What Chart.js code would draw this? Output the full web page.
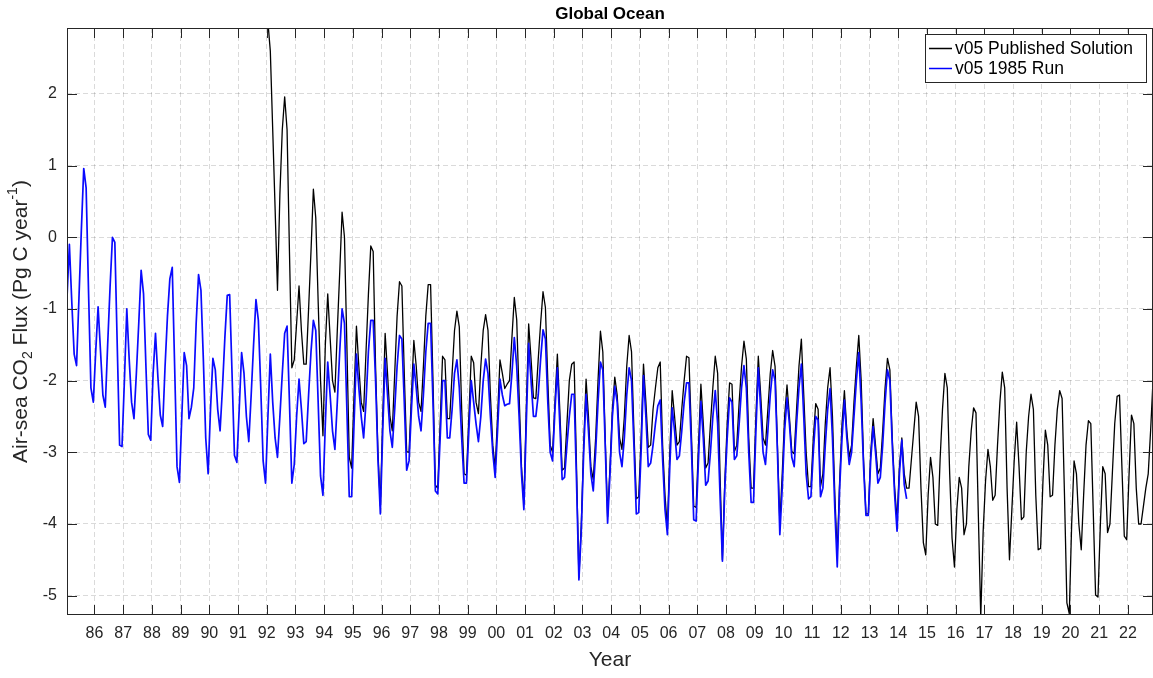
<!DOCTYPE html>
<html>
<head>
<meta charset="utf-8">
<script src="https://cdn.jsdelivr.net/npm/chart.js@4.4.1/dist/chart.umd.min.js"></script>
<style>
  html, body { margin: 0; padding: 0; background: #fff; }
</style>
</head>
<body>
<canvas id="fluxChart" width="1153" height="678"></canvas>
<script>
// Monthly air-sea CO2 flux, Pg C / year
// v05 1985 Run: Jan 1985 - Apr 2014
const runStartYear = 1985;
const runFlux = [
  -0.85, -0.10, -0.90, -1.63, -1.79, -0.85, 0.10, 0.96, 0.69, -0.75, -2.10, -2.30,
  -1.60, -0.97, -1.58, -2.20, -2.37, -1.50, -0.70, 0.00, -0.07, -1.50, -2.90, -2.92,
  -2.00, -1.00, -1.70, -2.30, -2.53, -1.90, -1.20, -0.46, -0.79, -1.80, -2.75, -2.83,
  -1.90, -1.34, -1.95, -2.48, -2.64, -1.80, -1.10, -0.58, -0.42, -1.80, -3.20, -3.42,
  -2.50, -1.61, -1.79, -2.53, -2.37, -2.10, -1.20, -0.52, -0.74, -1.70, -2.80, -3.30,
  -2.40, -1.69, -1.85, -2.40, -2.70, -2.10, -1.40, -0.81, -0.80, -1.90, -3.04, -3.14,
  -2.40, -1.61, -1.90, -2.50, -2.85, -2.20, -1.50, -0.87, -1.16, -2.10, -3.12, -3.43,
  -2.50, -1.63, -2.30, -2.80, -3.07, -2.50, -1.90, -1.34, -1.24, -2.30, -3.43, -3.17,
  -2.50, -1.98, -2.40, -2.88, -2.85, -2.20, -1.60, -1.16, -1.30, -2.30, -3.33, -3.60,
  -2.60, -1.74, -2.20, -2.70, -2.96, -2.30, -1.60, -1.00, -1.20, -2.40, -3.62, -3.62,
  -2.60, -1.63, -2.10, -2.50, -2.80, -2.30, -1.60, -1.16, -1.16, -2.00, -3.10, -3.86,
  -2.70, -1.69, -2.20, -2.70, -2.93, -2.40, -1.80, -1.37, -1.42, -2.30, -3.25, -3.12,
  -2.40, -1.77, -2.10, -2.50, -2.70, -2.20, -1.60, -1.20, -1.20, -2.30, -3.54, -3.58,
  -2.80, -2.00, -2.00, -2.80, -2.80, -2.40, -1.90, -1.71, -2.10, -2.80, -3.43, -3.43,
  -2.70, -2.00, -2.30, -2.60, -2.85, -2.50, -2.00, -1.70, -1.90, -2.50, -3.00, -3.35,
  -2.70, -1.98, -2.20, -2.35, -2.33, -2.32, -1.90, -1.40, -1.80, -2.50, -3.30, -3.80,
  -2.60, -1.48, -2.00, -2.50, -2.50, -2.20, -1.70, -1.29, -1.42, -2.30, -3.00, -3.12,
  -2.40, -1.82, -2.60, -3.38, -3.35, -2.90, -2.50, -2.19, -2.19, -3.40, -4.78, -4.10,
  -3.00, -2.19, -2.70, -3.30, -3.54, -3.00, -2.30, -1.74, -1.85, -2.90, -3.99, -3.30,
  -2.50, -2.08, -2.30, -3.00, -3.20, -2.80, -2.20, -1.82, -2.00, -2.90, -3.86, -3.84,
  -3.00, -1.93, -2.50, -3.20, -3.15, -2.90, -2.60, -2.35, -2.27, -3.10, -3.80, -4.15,
  -3.20, -2.38, -2.70, -3.10, -3.05, -2.70, -2.30, -2.03, -2.03, -2.90, -3.94, -3.96,
  -3.10, -2.29, -2.80, -3.46, -3.40, -3.00, -2.50, -2.14, -2.60, -3.60, -4.52, -3.50,
  -2.80, -2.24, -2.30, -3.10, -3.05, -2.60, -2.10, -1.79, -2.10, -3.00, -3.70, -3.70,
  -2.70, -1.82, -2.40, -3.00, -3.17, -2.70, -2.20, -1.85, -2.00, -3.00, -4.15, -3.50,
  -2.70, -2.24, -2.60, -3.07, -3.20, -2.60, -2.10, -1.77, -2.50, -3.30, -3.65, -3.62,
  -3.00, -2.50, -2.55, -3.62, -3.50, -2.90, -2.40, -2.11, -2.80, -3.80, -4.60, -3.50,
  -2.80, -2.27, -2.80, -3.17, -3.00, -2.50, -2.00, -1.61, -2.30, -3.20, -3.88, -3.88,
  -3.10, -2.64, -3.00, -3.43, -3.35, -2.90, -2.30, -1.85, -2.00, -2.90, -3.60, -4.10,
  -3.30, -2.83, -3.45, -3.65
];

// v05 Published Solution: Jan 1992 - Nov 2022
const publishedStartYear = 1992;
const publishedFlux = [
  3.00, 2.60, 1.50, 0.40, -0.74, 0.60, 1.50, 1.96, 1.50, -0.20, -1.82, -1.71,
  -1.20, -0.68, -1.30, -1.77, -1.77, -1.00, -0.20, 0.67, 0.27, -0.90, -2.00, -2.77,
  -1.50, -0.79, -1.40, -2.00, -2.16, -1.30, -0.50, 0.35, 0.00, -1.50, -3.07, -3.22,
  -2.20, -1.24, -1.80, -2.30, -2.43, -1.60, -0.80, -0.12, -0.20, -1.80, -3.00, -3.75,
  -2.50, -1.34, -1.90, -2.50, -2.70, -1.90, -1.10, -0.62, -0.68, -1.90, -2.99, -3.00,
  -2.20, -1.44, -1.80, -2.30, -2.43, -1.80, -1.10, -0.66, -0.66, -2.00, -3.46, -3.50,
  -2.60, -1.66, -1.71, -2.53, -2.53, -1.90, -1.30, -1.03, -1.25, -2.40, -3.30, -3.32,
  -2.50, -1.66, -1.75, -2.30, -2.46, -1.80, -1.30, -1.08, -1.30, -2.20, -2.90, -3.22,
  -2.50, -1.71, -1.90, -2.11, -2.05, -2.00, -1.40, -0.84, -1.15, -2.20, -3.20, -3.72,
  -2.40, -1.21, -1.70, -2.24, -2.25, -1.70, -1.20, -0.76, -0.98, -2.00, -2.90, -3.00,
  -2.30, -1.63, -2.40, -3.25, -3.22, -2.60, -2.00, -1.77, -1.74, -3.20, -4.75, -4.00,
  -2.90, -1.98, -2.50, -3.20, -3.38, -2.80, -2.00, -1.31, -1.60, -2.80, -3.90, -3.20,
  -2.40, -1.95, -2.20, -2.80, -2.96, -2.50, -1.80, -1.37, -1.60, -2.70, -3.65, -3.62,
  -2.80, -1.77, -2.30, -2.93, -2.90, -2.40, -2.10, -1.82, -1.74, -2.90, -3.60, -4.07,
  -3.00, -2.14, -2.50, -2.90, -2.85, -2.40, -2.00, -1.66, -1.68, -2.70, -3.75, -3.77,
  -2.90, -2.05, -2.60, -3.22, -3.15, -2.60, -2.10, -1.66, -1.90, -3.30, -4.50, -3.40,
  -2.60, -2.03, -2.05, -2.99, -2.90, -2.30, -1.80, -1.45, -1.70, -2.80, -3.50, -3.50,
  -2.50, -1.66, -2.20, -2.80, -2.90, -2.40, -1.90, -1.58, -1.80, -2.90, -3.99, -3.30,
  -2.50, -2.06, -2.50, -2.99, -3.02, -2.40, -1.80, -1.42, -2.20, -3.00, -3.48, -3.48,
  -2.80, -2.32, -2.40, -3.48, -3.30, -2.60, -2.10, -1.82, -2.50, -3.60, -4.44, -3.40,
  -2.60, -2.14, -2.70, -3.07, -2.90, -2.30, -1.80, -1.37, -2.00, -3.10, -3.86, -3.86,
  -3.00, -2.53, -2.90, -3.30, -3.22, -2.70, -2.10, -1.69, -1.85, -2.80, -3.50, -3.95,
  -3.20, -2.80, -3.30, -3.50, -3.50, -3.10, -2.70, -2.30, -2.50, -3.50, -4.26, -4.43,
  -3.60, -3.07, -3.35, -4.00, -4.02, -3.10, -2.40, -1.90, -2.10, -3.30, -4.20, -4.60,
  -3.80, -3.35, -3.50, -4.15, -4.00, -3.20, -2.70, -2.38, -2.45, -3.90, -5.30, -4.10,
  -3.40, -2.96, -3.20, -3.67, -3.60, -2.90, -2.30, -1.88, -2.10, -3.50, -4.50, -3.80,
  -3.10, -2.58, -3.20, -3.94, -3.90, -3.00, -2.50, -2.19, -2.40, -3.60, -4.36, -4.34,
  -3.40, -2.69, -2.90, -3.62, -3.60, -2.90, -2.40, -2.14, -2.25, -3.60, -5.10, -5.25,
  -4.00, -3.12, -3.30, -4.00, -4.36, -3.60, -2.90, -2.56, -2.60, -3.80, -4.99, -5.02,
  -4.00, -3.20, -3.30, -4.12, -4.00, -3.30, -2.60, -2.22, -2.20, -3.20, -4.17, -4.22,
  -3.30, -2.48, -2.60, -3.50, -4.00, -4.00, -3.75, -3.50, -3.30, -2.70, -2.00
];

// axis ticks
const yearTicks = [1986, 1987, 1988, 1989, 1990, 1991, 1992, 1993, 1994, 1995, 1996, 1997,
  1998, 1999, 2000, 2001, 2002, 2003, 2004, 2005, 2006, 2007, 2008, 2009, 2010, 2011,
  2012, 2013, 2014, 2015, 2016, 2017, 2018, 2019, 2020, 2021, 2022];
const yearLabels = ['86', '87', '88', '89', '90', '91', '92', '93', '94', '95', '96', '97',
  '98', '99', '00', '01', '02', '03', '04', '05', '06', '07', '08', '09', '10', '11',
  '12', '13', '14', '15', '16', '17', '18', '19', '20', '21', '22'];
const fluxTicks = [-5, -4, -3, -2, -1, 0, 1, 2];

const FONT = '"Liberation Sans", Arial, Helvetica, sans-serif';
const AXIS_COLOR = '#262626';
const GRID_COLOR = 'rgba(38, 38, 38, 0.17)';

// months are plotted at mid-month in decimal years
function toPoints(startYear, values) {
  return values.map((v, i) => ({ x: startYear + (i + 0.5) / 12, y: v }));
}

function drawYLabel(ctx, cx, cy) {
  const big = '21px ' + FONT;
  const small = '14px ' + FONT;
  const parts = [
    { t: 'Air-sea CO', f: big, dy: 0 },
    { t: '2', f: small, dy: 7 },
    { t: ' Flux (Pg C year', f: big, dy: 0 },
    { t: '-1', f: small, dy: -8 },
    { t: ')', f: big, dy: 0 }
  ];
  let total = 0;
  parts.forEach(p => { ctx.font = p.f; p.w = ctx.measureText(p.t).width; total += p.w; });
  ctx.save();
  ctx.translate(cx, cy);
  ctx.rotate(-Math.PI / 2);
  ctx.fillStyle = AXIS_COLOR;
  ctx.textBaseline = 'middle';
  ctx.textAlign = 'left';
  let x = -total / 2;
  parts.forEach(p => { ctx.font = p.f; ctx.fillText(p.t, x, p.dy); x += p.w; });
  ctx.restore();
}

// box, inward ticks, title, y label and legend in the MATLAB style
const matlabFrame = {
  id: 'matlabFrame',
  afterDraw(chart) {
    const { ctx, chartArea: a, scales } = chart;
    ctx.save();
    ctx.strokeStyle = AXIS_COLOR;
    ctx.lineWidth = 1;
    ctx.setLineDash([]);
    ctx.strokeRect(a.left + 0.5, a.top + 0.5, a.right - a.left - 1, a.bottom - a.top - 1);

    const tl = 10;
    ctx.beginPath();
    yearTicks.forEach(v => {
      const x = Math.round(scales.x.getPixelForValue(v)) + 0.5;
      ctx.moveTo(x, a.bottom); ctx.lineTo(x, a.bottom - tl);
      ctx.moveTo(x, a.top); ctx.lineTo(x, a.top + tl);
    });
    fluxTicks.forEach(v => {
      const y = Math.round(scales.y.getPixelForValue(v)) + 0.5;
      ctx.moveTo(a.left, y); ctx.lineTo(a.left + tl, y);
      ctx.moveTo(a.right, y); ctx.lineTo(a.right - tl, y);
    });
    ctx.stroke();

    // title
    ctx.fillStyle = '#000';
    ctx.font = 'bold 17px ' + FONT;
    ctx.textAlign = 'center';
    ctx.textBaseline = 'middle';
    ctx.fillText('Global Ocean', (a.left + a.right) / 2, 14);

    drawYLabel(ctx, 21, (a.top + a.bottom) / 2);

    // legend
    const lx = 925, ly = 34, lw = 221, lh = 48;
    ctx.fillStyle = '#fff';
    ctx.fillRect(lx, ly, lw, lh);
    ctx.strokeStyle = AXIS_COLOR;
    ctx.lineWidth = 1;
    ctx.strokeRect(lx + 0.5, ly + 0.5, lw, lh);
    const rows = [
      { label: 'v05 Published Solution', color: '#000000', y: ly + 14 },
      { label: 'v05 1985 Run', color: '#0000ff', y: ly + 34 }
    ];
    ctx.font = '17.5px ' + FONT;
    ctx.textAlign = 'left';
    rows.forEach(r => {
      ctx.strokeStyle = r.color;
      ctx.lineWidth = 1.5;
      ctx.beginPath();
      ctx.moveTo(lx + 4, r.y + 0.5); ctx.lineTo(lx + 27, r.y + 0.5);
      ctx.stroke();
      ctx.fillStyle = '#000';
      ctx.fillText(r.label, lx + 30, r.y + 1);
    });
    ctx.restore();
  }
};

const ctx = document.getElementById('fluxChart').getContext('2d');
new Chart(ctx, {
  type: 'line',
  data: {
    datasets: [
      {
        label: 'v05 1985 Run',
        data: toPoints(runStartYear, runFlux),
        borderColor: '#0a0aff',
        borderWidth: 1.7
      },
      {
        label: 'v05 Published Solution',
        data: toPoints(publishedStartYear, publishedFlux),
        borderColor: '#000000',
        borderWidth: 1.3
      }
    ]
  },
  options: {
    responsive: false,
    animation: false,
    elements: {
      point: { radius: 0 },
      line: { tension: 0, borderJoinStyle: 'round', fill: false }
    },
    layout: { padding: { top: 28, left: 0, right: 0, bottom: 0 } },
    plugins: {
      legend: { display: false },
      title: { display: false },
      tooltip: { enabled: false }
    },
    scales: {
      x: {
        type: 'linear',
        min: 1985.042,
        max: 2022.875,
        afterBuildTicks: s => { s.ticks = yearTicks.map(v => ({ value: v })); },
        afterFit: s => { s.height = 63; },
        grid: { color: GRID_COLOR, drawTicks: false, borderDash: [5, 3] },
        border: { display: false, dash: [5, 3] },
        ticks: {
          autoSkip: false,
          maxRotation: 0,
          padding: 9,
          color: AXIS_COLOR,
          font: { family: FONT, size: 16 },
          callback: v => yearLabels[yearTicks.indexOf(v)]
        },
        title: {
          display: true,
          text: 'Year',
          color: AXIS_COLOR,
          font: { family: FONT, size: 21 },
          padding: { top: 0, bottom: 5 }
        }
      },
      y: {
        min: -5.27,
        max: 2.92,
        afterBuildTicks: s => { s.ticks = fluxTicks.map(v => ({ value: v })); },
        afterFit: s => { s.width = 67; },
        grid: { color: GRID_COLOR, drawTicks: false, borderDash: [5, 3] },
        border: { display: false, dash: [5, 3] },
        ticks: {
          padding: 10,
          color: AXIS_COLOR,
          font: { family: FONT, size: 16 }
        }
      }
    }
  },
  plugins: [matlabFrame]
});
</script>
</body>
</html>
